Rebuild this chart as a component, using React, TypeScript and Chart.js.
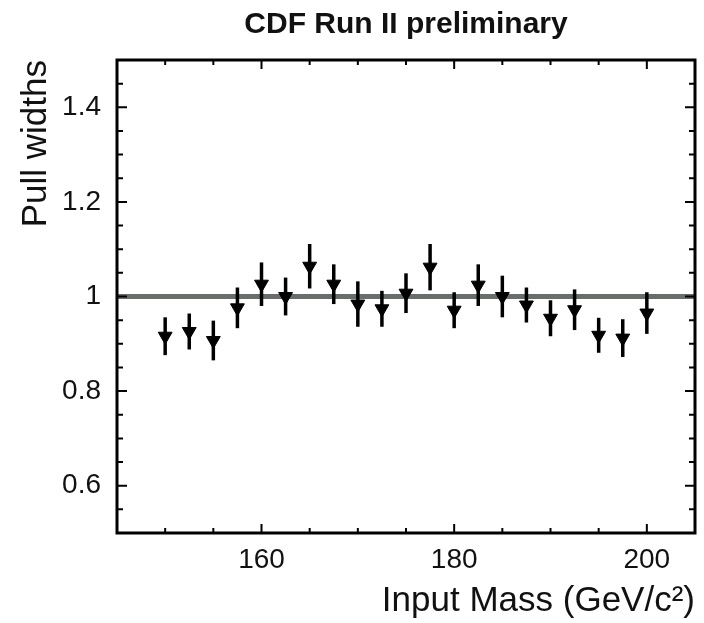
import React, { useEffect, useRef } from 'react';
import { Chart, registerables } from 'chart.js';

Chart.register(...registerables);

// ---- data ----
const masses = [150, 152.5, 155, 157.5, 160, 162.5, 165, 167.5, 170, 172.5, 175, 177.5, 180, 182.5, 185, 187.5, 190, 192.5, 195, 197.5, 200];
const pullWidths = [0.916, 0.926, 0.907, 0.976, 1.026, 1.0, 1.064, 1.026, 0.984, 0.974, 1.007, 1.062, 0.971, 1.024, 1.0, 0.982, 0.954, 0.972, 0.918, 0.912, 0.965];
const pullErrors = [0.04, 0.038, 0.042, 0.043, 0.046, 0.04, 0.047, 0.042, 0.048, 0.038, 0.042, 0.049, 0.038, 0.044, 0.044, 0.037, 0.038, 0.043, 0.037, 0.04, 0.044];

const xTickValues = [160, 180, 200];
const xTickLabels = ['160', '180', '200'];
const xMinorTicks = [150, 155, 165, 170, 175, 185, 190, 195];
const yTickValues = [0.6, 0.8, 1, 1.2, 1.4];
const yTickLabels = ['0.6', '0.8', '1', '1.2', '1.4'];
const yMinorTicks = [0.55, 0.65, 0.7, 0.75, 0.85, 0.9, 0.95, 1.05, 1.1, 1.15, 1.25, 1.3, 1.35, 1.45];
const xRange = [145, 205];
const yRange = [0.5, 1.5];
const referenceLevel = 1;

const titleText = 'CDF Run II preliminary';
const xTitle = 'Input Mass (GeV/c\u00B2)';
const yTitle = 'Pull widths';

const FONT = '"Liberation Sans", Arial, Helvetica, sans-serif';
const INK = '#111';

const framePlugin = {
  id: 'frameAndErrors',
  afterDatasetsDraw(chart: any) {
    const { ctx, scales } = chart;
    const x = scales.x;
    const y = scales.y;
    ctx.save();
    ctx.strokeStyle = '#000';
    ctx.lineWidth = 3.5;
    ctx.lineCap = 'butt';
    masses.forEach((m, i) => {
      const px = x.getPixelForValue(m);
      ctx.beginPath();
      ctx.moveTo(px, y.getPixelForValue(pullWidths[i] - pullErrors[i]));
      ctx.lineTo(px, y.getPixelForValue(pullWidths[i] + pullErrors[i]));
      ctx.stroke();
    });
    ctx.restore();
  },
  afterDraw(chart: any) {
    const { ctx, chartArea: a, scales } = chart;
    const x = scales.x;
    const y = scales.y;
    ctx.save();
    ctx.strokeStyle = '#000';
    ctx.lineWidth = 2;
    const majorLen = 9;
    const minorLen = 5;
    const vTick = (v: number, len: number) => {
      const px = x.getPixelForValue(v);
      ctx.beginPath();
      ctx.moveTo(px, a.bottom);
      ctx.lineTo(px, a.bottom - len);
      ctx.moveTo(px, a.top);
      ctx.lineTo(px, a.top + len);
      ctx.stroke();
    };
    const hTick = (v: number, len: number) => {
      const py = y.getPixelForValue(v);
      ctx.beginPath();
      ctx.moveTo(a.left, py);
      ctx.lineTo(a.left + len, py);
      ctx.moveTo(a.right, py);
      ctx.lineTo(a.right - len, py);
      ctx.stroke();
    };
    xTickValues.forEach((v) => vTick(v, majorLen));
    xMinorTicks.forEach((v) => vTick(v, minorLen));
    yTickValues.forEach((v) => hTick(v, majorLen + 1));
    yMinorTicks.forEach((v) => hTick(v, minorLen + 1));
    ctx.lineWidth = 3;
    ctx.strokeRect(a.left, a.top, a.right - a.left, a.bottom - a.top);
    ctx.restore();
  },
};

export default function App() {
  const canvasRef = useRef<HTMLCanvasElement | null>(null);

  useEffect(() => {
    if (!canvasRef.current) return;
    const chart = new Chart(canvasRef.current, {
      type: 'scatter',
      data: {
        datasets: [
          {
            type: 'line',
            data: [
              { x: xRange[0], y: referenceLevel },
              { x: xRange[1], y: referenceLevel },
            ],
            borderColor: '#6a6e6a',
            borderWidth: 5,
            pointRadius: 0,
            order: 2,
          } as any,
          {
            type: 'scatter',
            data: masses.map((m, i) => ({ x: m, y: pullWidths[i] })),
            pointStyle: 'triangle',
            rotation: 180,
            radius: 8,
            backgroundColor: '#000',
            borderColor: '#000',
            borderWidth: 1,
            order: 1,
          } as any,
        ],
      },
      options: {
        responsive: false,
        animation: false,
        events: [],
        devicePixelRatio: 1,
        layout: { padding: { left: 0, right: 5, top: 0, bottom: 0 } },
        plugins: {
          legend: { display: false },
          tooltip: { enabled: false },
          title: {
            display: true,
            text: titleText,
            fullSize: false,
            color: INK,
            font: { family: FONT, size: 30, weight: 'bold' },
            padding: { top: 7, bottom: 17 },
          },
        },
        scales: {
          x: {
            type: 'linear',
            min: xRange[0],
            max: xRange[1],
            grid: { display: false, drawTicks: false },
            border: { display: false },
            afterBuildTicks: (scale: any) => {
              scale.ticks = xTickValues.map((v) => ({ value: v }));
            },
            afterFit: (scale: any) => {
              scale.height = 90;
            },
            ticks: {
              autoSkip: false,
              maxRotation: 0,
              padding: 10,
              color: INK,
              font: { family: FONT, size: 28 },
              callback: (v: any) => {
                const idx = xTickValues.indexOf(Number(v));
                return idx >= 0 ? xTickLabels[idx] : '';
              },
            },
            title: {
              display: true,
              text: xTitle,
              align: 'end',
              color: INK,
              font: { family: FONT, size: 35 },
              padding: { top: 0, bottom: 1 },
            },
          },
          y: {
            type: 'linear',
            min: yRange[0],
            max: yRange[1],
            grid: { display: false, drawTicks: false },
            border: { display: false },
            afterBuildTicks: (scale: any) => {
              scale.ticks = yTickValues.map((v) => ({ value: v }));
            },
            afterFit: (scale: any) => {
              scale.width = 117;
            },
            ticks: {
              autoSkip: false,
              padding: 16,
              color: INK,
              font: { family: FONT, size: 28 },
              callback: (v: any) => {
                const idx = yTickValues.findIndex((t) => Math.abs(t - Number(v)) < 1e-9);
                return idx >= 0 ? yTickLabels[idx] : '';
              },
            },
            title: {
              display: true,
              text: yTitle,
              align: 'end',
              color: INK,
              font: { family: FONT, size: 35 },
              padding: { top: 15, bottom: 0 },
            },
          },
        },
      } as any,
      plugins: [framePlugin],
    });
    return () => chart.destroy();
  }, []);

  return (
    <div style={{ position: 'absolute', left: 0, top: 0, width: 704, height: 623, background: '#fff' }}>
      <canvas ref={canvasRef} width={704} height={623} style={{ width: 704, height: 623, display: 'block' }} />
    </div>
  );
}
